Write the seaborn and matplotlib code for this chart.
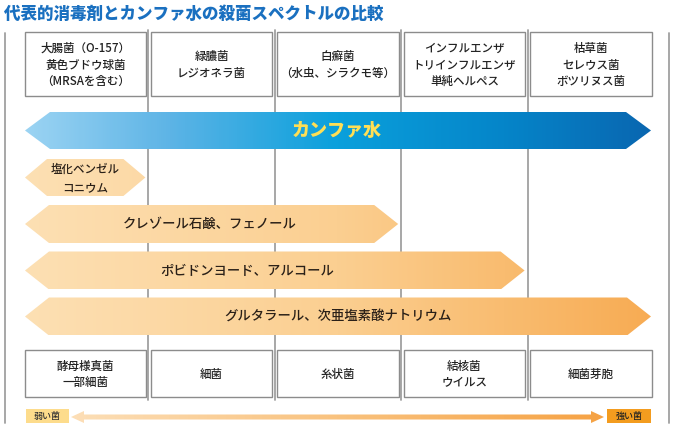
import numpy as np
import seaborn as sns
import matplotlib.pyplot as plt
from matplotlib.patches import Polygon, Rectangle

# data
title = "代表的消毒剤とカンファ水の殺菌スペクトルの比較"
top_labels = ["大腸菌（O-157）\n黄色ブドウ球菌\n（MRSAを含む）",
              "緑膿菌\nレジオネラ菌",
              "白癬菌\n（水虫、シラクモ等）",
              "インフルエンザ\nトリインフルエンザ\n単純ヘルペス",
              "枯草菌\nセレウス菌\nボツリヌス菌"]
bottom_labels = ["酵母様真菌\n一部細菌", "細菌", "糸状菌", "結核菌\nウイルス", "細菌芽胞"]
agents = ["カンファ水", "塩化ベンゼル\nコニウム", "クレゾール石鹸、フェノール",
          "ポビドンヨード、アルコール", "グルタラール、次亜塩素酸ナトリウム"]
reach = [5, 1, 3, 4, 5]   # number of columns each agent covers
weak_label, strong_label = "弱い菌", "強い菌"

sns.set_theme(style="white")
plt.rcParams['font.family'] = ['Noto Sans CJK JP', 'DejaVu Sans']

W, H = 674, 430
fig = plt.figure(figsize=(W / 100, H / 100), dpi=100)
ax = fig.add_axes([0, 0, 1, 1])
ax.set_xlim(0, W)
ax.set_ylim(H, 0)
ax.axis('off')

col_w = 126.4
edges = 22 + col_w * np.arange(6)

blue = sns.blend_palette(["#a6d9f5", "#5db4e6", "#0aa0dc", "#0585c9", "#0a62ad"], as_cmap=True)
orange = sns.blend_palette(["#fde1b6", "#fbcf91", "#f7a94f"], as_cmap=True)
arrow_line = sns.blend_palette(["#fde6c6", "#f9c27e", "#f59a35"], as_cmap=True)


def grad_poly(pts, x0, x1, y0, y1, cmap):
    poly = Polygon(pts, closed=True, facecolor='none', edgecolor='none')
    ax.add_patch(poly)
    g = np.linspace(x0 / W, x1 / W, 256)[None, :]
    im = ax.imshow(g, extent=(x0, x1, y1, y0), cmap=cmap, vmin=0, vmax=1,
                   aspect='auto', interpolation='bilinear', zorder=2)
    im.set_clip_path(poly)


def arrow(x0, x1, yc, h, cmap, depth=22):
    pts = [(x0, yc), (x0 + depth, yc - h / 2), (x1 - depth, yc - h / 2),
           (x1, yc), (x1 - depth, yc + h / 2), (x0 + depth, yc + h / 2)]
    grad_poly(pts, x0, x1, yc - h / 2, yc + h / 2, cmap)


# vertical grid lines
for x in edges[1:5]:
    ax.plot([x, x], [30, 400], color="#a0a0a0", lw=1.3, zorder=1)
ax.plot([5, 5], [33, 423], color="#a0a0a0", lw=1.3, zorder=1)
ax.plot([669, 669], [33, 423], color="#a0a0a0", lw=1.3, zorder=1)

# boxes top and bottom
for i in range(5):
    for (y0, y1, labs) in [(32, 96, top_labels), (350, 397, bottom_labels)]:
        ax.add_patch(Rectangle((edges[i] + 2.5, y0), col_w - 5, y1 - y0,
                               facecolor="white", edgecolor="#8c8c8c", lw=1, zorder=3))
        ax.text(edges[i] + col_w / 2, (y0 + y1) / 2 + 1, labs[i], ha='center', va='center',
                fontsize=8.3, linespacing=1.35, color="#222222", fontweight='medium', zorder=4)

# agent arrows
rows = [130.5, 177.5, 224, 270.5, 316.5]
text_x = [337, 85, 210, 247, 338]
for i, (name, r, yc) in enumerate(zip(agents, reach, rows)):
    x1 = edges[r] - 3
    if i == 0:
        arrow(25, x1, yc, 37, blue, depth=25)
        ax.text(text_x[i], yc, name, ha='center', va='center', fontsize=13,
                fontweight='heavy', color="#ffdf55", zorder=5)
    elif r == 1:
        arrow(25, x1, yc, 37, orange, depth=22)
        ax.text(text_x[i], yc + 1, name, ha='center', va='center', fontsize=8.3,
                linespacing=1.45, color="#2a2018", fontweight='medium', zorder=5)
    else:
        arrow(25, x1, yc, 38, orange, depth=24)
        ax.text(text_x[i], yc, name, ha='center', va='center', fontsize=9.6,
                color="#2a2018", fontweight='medium', zorder=5)

# bottom weak-strong arrow
yb = 417
pts = [(71, yb), (84, yb - 6), (84, yb - 2.5), (591, yb - 2.5), (591, yb - 6), (604, yb),
       (591, yb + 6), (591, yb + 2.5), (84, yb + 2.5), (84, yb + 6)]
grad_poly(pts, 71, 604, yb - 6, yb + 6, arrow_line)
ax.add_patch(Rectangle((26, 409), 43, 14, facecolor="#fddc8c", edgecolor='none', zorder=3))
ax.text(47.5, 416.5, weak_label, ha='center', va='center', fontsize=6.5, color="#333333",
        fontweight='medium', zorder=4)
ax.add_patch(Rectangle((607, 409), 44, 14, facecolor="#f39c1f", edgecolor='none', zorder=3))
ax.text(629, 416.5, strong_label, ha='center', va='center', fontsize=6.5, color="#222222",
        fontweight='medium', zorder=4)

# title
ax.text(4, 14, title, ha='left', va='center', fontsize=11.9, fontweight='heavy', color="#1a70c0")

ax.set_xlim(0, W)
ax.set_ylim(H, 0)
fig.savefig("out.png", dpi=100)
